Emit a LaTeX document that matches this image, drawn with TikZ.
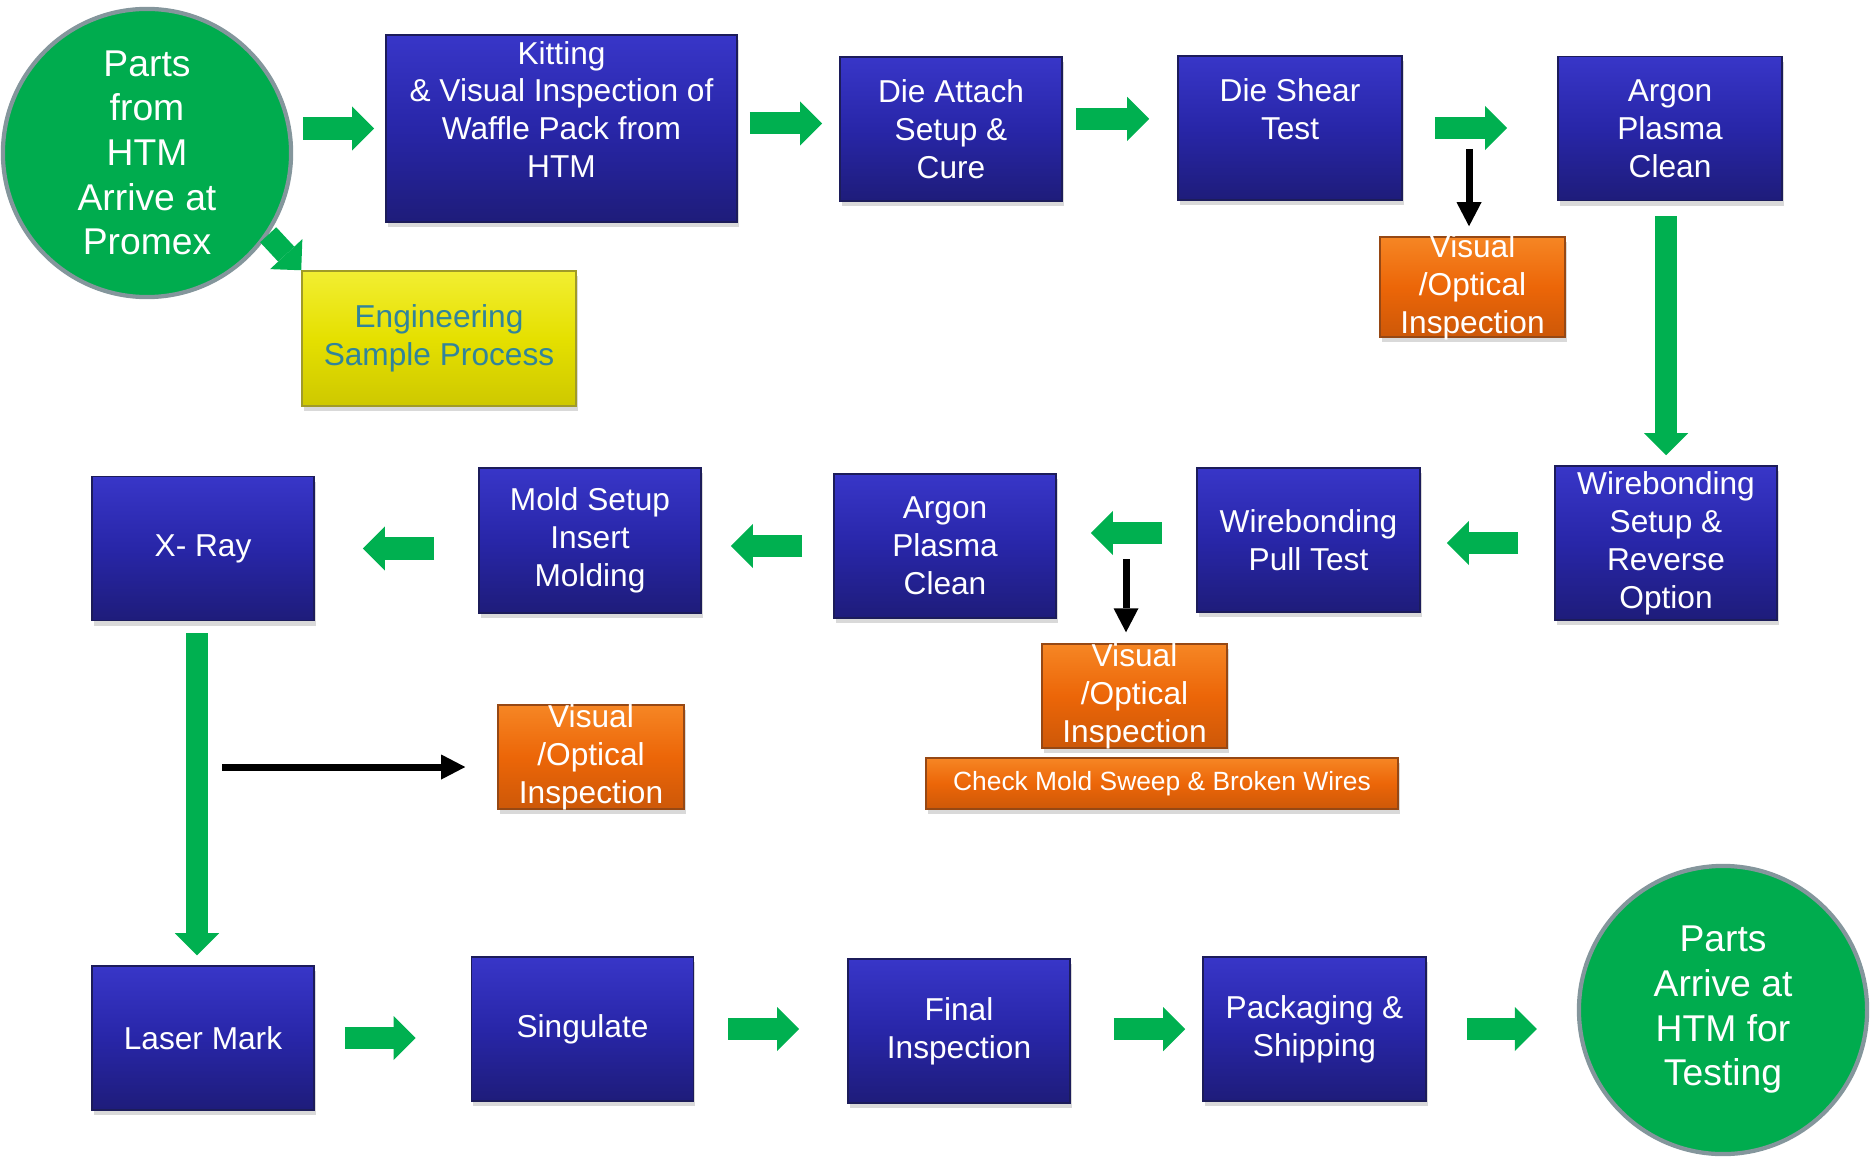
\documentclass[tikz,border=0pt]{standalone}
\usepackage{fontspec}
\setmainfont{Liberation Sans}
\usetikzlibrary{arrows.meta,shadows}

\definecolor{bluetop}{RGB}{56,54,200}
\definecolor{bluemid}{RGB}{40,38,168}
\definecolor{bluebot}{RGB}{30,28,122}
\definecolor{blueedge}{RGB}{28,28,90}
\definecolor{orangetop}{RGB}{246,134,36}
\definecolor{orangemid}{RGB}{236,102,8}
\definecolor{orangebot}{RGB}{205,88,8}
\definecolor{orangeedge}{RGB}{150,72,20}
\definecolor{yellowtop}{RGB}{242,238,50}
\definecolor{yellowmid}{RGB}{229,224,0}
\definecolor{yellowbot}{RGB}{206,200,0}
\definecolor{yellowedge}{RGB}{160,155,40}
\definecolor{sampletext}{RGB}{49,132,155}
\definecolor{startgreen}{RGB}{0,172,78}
\definecolor{startedge}{RGB}{132,150,156}
\definecolor{flowgreen}{RGB}{0,176,80}

\begin{document}
\begin{tikzpicture}
        [
            x = 0.01cm, y = -0.01cm,
            procbox/.style={rectangle, minimum width=2.22cm, minimum height=1.44cm, inner sep=1pt,
                align=center, text=white, font=\fontsize{9}{10.8}\selectfont,
                draw=blueedge, line width=0.4pt, top color=bluetop, bottom color=bluebot, middle color=bluemid,
                drop shadow={shadow xshift=0.5pt, shadow yshift=-1.5pt, opacity=0.3}},
            inspect/.style={procbox, minimum width=1.85cm, minimum height=1.0cm,
                draw=orangeedge, top color=orangetop, bottom color=orangebot, middle color=orangemid},
            inspecttext/.style={align=center, text=white, font=\fontsize{9}{10.8}\selectfont, inner sep=0pt},
            sample/.style={procbox, minimum width=2.74cm, minimum height=1.35cm, text=sampletext,
                draw=yellowedge, top color=yellowtop, bottom color=yellowbot, middle color=yellowmid},
            terminal/.style={circle, minimum size=2.88cm, inner sep=0pt, align=center, text=white,
                font=\fontsize{10.6}{12.7}\selectfont, fill=startgreen, draw=startedge, line width=1.2pt},
            flow/.style={draw=flowgreen, line width=0.22cm,
                -{Triangle[width=0.44cm, length=0.22cm, line width=0pt]}},
            tap/.style={draw=black, line width=0.07cm,
                -{Triangle[width=0.25cm, length=0.24cm, line width=0pt]}},
        ]
        \useasboundingbox (0,0) rectangle (1874,1161);

        \node[terminal] (arrive) at (147,153) {Parts\\from\\HTM\\Arrive at\\Promex};
        \node[procbox, minimum width=3.51cm, minimum height=1.87cm] (kitting) at (561.5,128.5)
            {Kitting\\\& Visual Inspection of\\Waffle Pack from\\HTM\\~};
        \node[procbox] (attach) at (951,129) {Die Attach\\Setup \&\\Cure};
        \node[procbox, minimum width=2.24cm] (shear) at (1290,128) {Die Shear\\Test\\~};
        \node[procbox, minimum width=2.24cm] (plasmaA) at (1670,128.5) {Argon\\Plasma\\Clean};
        \node[inspect, label={[inspecttext]center:Visual\\/Optical\\Inspection}] (opticalA) at (1472.5,287) {};
        \node[sample] (engsample) at (439,338.5) {Engineering\\Sample Process};

        \node[procbox, minimum height=1.54cm] (wbsetup) at (1666,543) {Wirebonding\\Setup \&\\Reverse\\Option};
        \node[procbox, minimum width=2.23cm] (pulltest) at (1308.5,540) {Wirebonding\\Pull Test};
        \node[inspect, minimum height=1.04cm, label={[inspecttext]center:Visual\\/Optical\\Inspection}] (opticalB) at (1134.5,696) {};
        \node[inspect, minimum width=4.72cm, minimum height=0.51cm, font=\fontsize{7.5}{9}\selectfont] (sweep) at (1162,783.5)
            {Check Mold Sweep \& Broken Wires};
        \node[procbox] (plasmaB) at (945,546) {Argon\\Plasma\\Clean};
        \node[procbox, minimum height=1.45cm] (molding) at (590,540.5) {Mold Setup\\Insert\\Molding};
        \node[procbox] (xray) at (203,548.5) {X- Ray};
        \node[inspect, minimum width=1.86cm, minimum height=1.04cm, label={[inspecttext]center:Visual\\/Optical\\Inspection}] (opticalC) at (591,757) {};

        \node[procbox] (laser) at (203,1038) {Laser Mark};
        \node[procbox] (singulate) at (582.5,1029) {Singulate};
        \node[procbox] (final) at (959,1031) {Final\\Inspection};
        \node[procbox, minimum width=2.23cm] (packaging) at (1314.5,1029) {Packaging \&\\Shipping};
        \node[terminal] (testing) at (1723,1010) {Parts\\Arrive at\\HTM for\\Testing};

        \coordinate (tapA) at (1469,149);
        \coordinate (tapB) at (1126,559);
        \coordinate (tapC) at (222,767);

        \draw[flow, shorten <=0.10cm, shorten >=0.11cm] (arrive.east |- kitting.west) -- (kitting.west);
        \draw[flow] (arrive.-34) -- (engsample.north west);
        \draw[flow, shorten <=0.12cm, shorten >=0.17cm] ([yshift=0.05cm]kitting.east) -- ([yshift=0.05cm]kitting.east -| attach.west);
        \draw[flow, shorten <=0.13cm, shorten >=0.28cm] ([yshift=0.1cm]attach.east) -- ([yshift=0.1cm]attach.east -| shear.west);
        \draw[flow, shorten <=0.32cm, shorten >=0.50cm] (shear.east) -- (shear.east -| plasmaA.west);
        \draw[tap, shorten >=0.10cm] (tapA) -- (tapA |- opticalA.north);
        \draw[flow, shorten <=0.15cm, shorten >=0.10cm] (wbsetup.north |- plasmaA.south) -- (wbsetup.north);
        \draw[flow, shorten <=0.36cm, shorten >=0.26cm] (wbsetup.west) -- (wbsetup.west -| pulltest.east);
        \draw[flow, shorten <=0.34cm, shorten >=0.34cm] ([yshift=0.07cm]pulltest.west) -- ([yshift=0.07cm]pulltest.west -| plasmaB.east);
        \draw[tap, shorten >=0.11cm] (tapB) -- (tapB |- opticalB.north);
        \draw[flow, shorten <=0.31cm, shorten >=0.29cm] (plasmaB.west) -- (plasmaB.west -| molding.east);
        \draw[flow, shorten <=0.44cm, shorten >=0.48cm] (molding.west |- xray.east) -- (xray.east);
        \draw[flow, shorten <=0.12cm, shorten >=0.10cm] ([xshift=-0.06cm]xray.south) -- ([xshift=-0.06cm]xray.south |- laser.north);
        \draw[tap, shorten >=0.32cm] (tapC) -- (tapC -| opticalC.west);
        \draw[flow, shorten <=0.30cm, shorten >=0.55cm] (laser.east) -- (laser.east -| singulate.west);
        \draw[flow, shorten <=0.34cm, shorten >=0.48cm] (singulate.east) -- (singulate.east -| final.west);
        \draw[flow, shorten <=0.43cm, shorten >=0.17cm] (final.east |- packaging.west) -- (packaging.west);
        \draw[flow, shorten <=0.40cm, shorten >=0.40cm] (packaging.east) -- (packaging.east -| testing.west);
    \end{tikzpicture}
\end{document}
